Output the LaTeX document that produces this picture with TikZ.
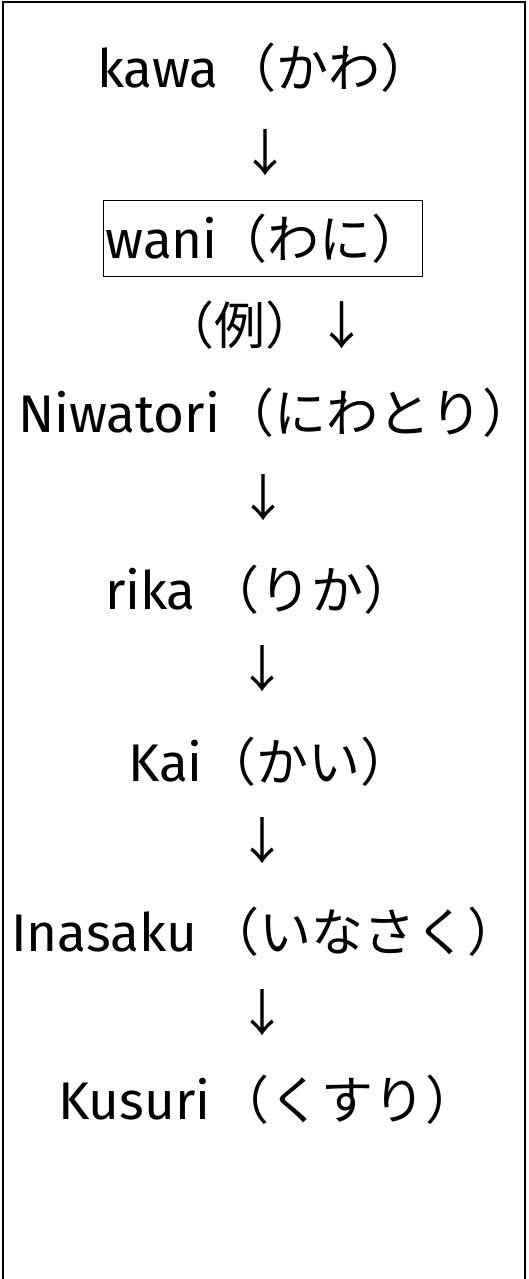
\documentclass[tikz,border=0pt]{standalone}
\usepackage{fontspec}
\setmainfont{Fira Sans}
\newfontfamily\jpfam{Noto Sans CJK JP}
\newcommand\jpt[1]{{\jpfam\fontsize{52}{60}\selectfont #1}}
\newcommand\halfclose{\makebox[26pt][l]{）}}
\begin{document}
\begin{tikzpicture}[x=1pt,y=1pt,
  word/.style={font=\fontsize{53}{60}\selectfont, inner sep=0pt, anchor=base west},
  arrowglyph/.style={font=\jpfam\fontsize{50}{60}\selectfont, inner sep=0pt},
  frame/.style={line width=2pt, draw=black}]
\useasboundingbox (0,0) rectangle (529,1279);
\draw[frame] (3,-6) rectangle (525,1277);

\node[word] (kawa) at (97,1191) {\makebox[127.5pt][l]{kawa}\jpt{（かわ\halfclose}};
\node[arrowglyph] (a1) at (265,1126.5) {↓};
\node[draw, line width=1.2pt, inner xsep=2pt, inner ysep=0pt, text width=315pt,
      minimum height=76pt, anchor=north west, align=left,
      font=\fontsize{53}{60}\selectfont] (wani) at (103,1079)
      {\makebox[109.5pt][l]{wani}\jpt{（わに\halfclose}};
\node[arrowglyph, anchor=west, font=\jpfam\fontsize{51}{60}\selectfont] (rei) at (163,953.5) {（例）↓};
\node[word] (niwatori) at (18,846) {\makebox[204.5pt][l]{Niwatori}\jpt{（にわとり\halfclose}};
\node[arrowglyph] (a2) at (263,781.5) {↓};
\node[word] (rika) at (105,669) {\makebox[102.5pt][l]{rika}\jpt{（りか\halfclose}};
\node[arrowglyph] (a3) at (262,610) {↓};
\node[word] (kai) at (128,497) {\makebox[76.5pt][l]{Kai}\jpt{（かい\halfclose}};
\node[arrowglyph] (a4) at (262,438) {↓};
\node[word] (inasaku) at (11,327) {\makebox[196.5pt][l]{Inasaku}\jpt{（いなさく\halfclose}};
\node[arrowglyph] (a5) at (262,266) {↓};
\node[word] (kusuri) at (58,159) {\makebox[159.5pt][l]{Kusuri}\jpt{（くすり\halfclose}};
\end{tikzpicture}
\end{document}
